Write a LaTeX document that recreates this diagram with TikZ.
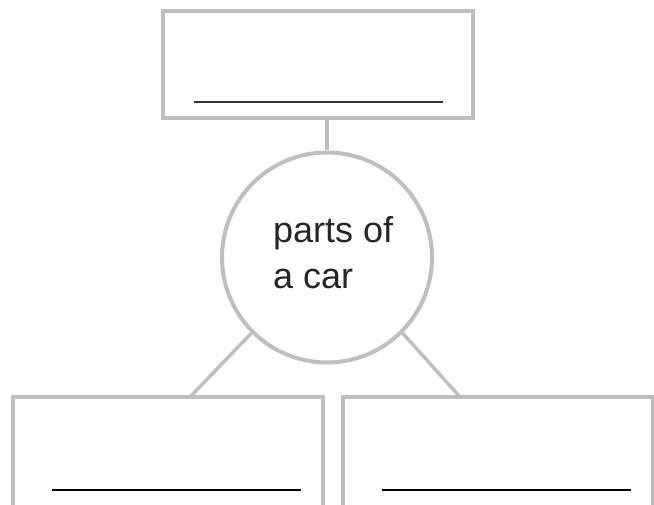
\documentclass[tikz,border=0pt]{standalone}
\usepackage{fontspec}
\setmainfont{Liberation Sans}
\definecolor{frame}{HTML}{BEBFC1}
\begin{document}
\begin{tikzpicture}[x=1pt,y=-1pt,
  boxline/.style={draw=frame,line width=4pt},
  conn/.style={draw=frame,line width=3.5pt},
  blank/.style={draw=black!80,line width=1.6pt},
  lbl/.style={font=\fontsize{36}{46}\selectfont,text=black!85,inner sep=0pt,anchor=base west}]
\useasboundingbox (0,0) rectangle (654,505);
\clip (0,0) rectangle (654,505);
\fill[white] (0,0) rectangle (654,505);
% top box
\node[boxline,minimum width=310pt,minimum height=107pt,inner sep=0pt] (top) at (318,64.5) {};
\coordinate (tl1) at (194,102);
\coordinate (tl2) at (443,102);
\draw[blank] (tl1) -- (tl2);
% circle
\node[boxline,circle,minimum size=210pt,inner sep=0pt] (c) at (327,257.5) {};
\node[lbl] (t1) at (273,243) {parts of};
\node[lbl] (t2) at (273,289) {a car};
% bottom boxes
\node[boxline,minimum width=310pt,minimum height=140pt,inner sep=0pt] (bl) at (168,467) {};
\node[boxline,minimum width=310pt,minimum height=140pt,inner sep=0pt] (br) at (497.5,467) {};
\coordinate (bl1) at (52,490);
\coordinate (bl2) at (301,490);
\coordinate (br1) at (382,490);
\coordinate (br2) at (631,490);
\draw[blank,draw=black] (bl1) -- (bl2);
\draw[blank,draw=black] (br1) -- (br2);
% connectors
\coordinate (stemtop) at (327,118);
\draw[conn] (327,118) -- (c.north);
\coordinate (la) at (190,397);
\coordinate (ra) at (460,397);
\draw[conn] (c.225) -- (la);
\draw[conn] (c.-45) -- (ra);
\end{tikzpicture}
\end{document}
